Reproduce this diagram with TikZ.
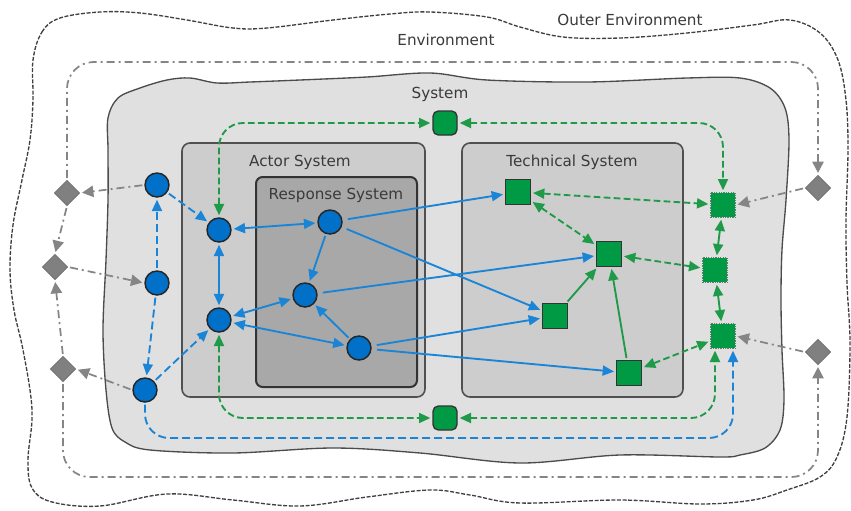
\documentclass[tikz,border=0pt]{standalone}
\usepackage{fontspec}
\setmainfont{DejaVu Sans}
\usetikzlibrary{shapes.geometric,arrows.meta}
\definecolor{bluefill}{HTML}{0070C8}
\definecolor{blueline}{HTML}{1A85D6}
\definecolor{greenfill}{HTML}{009A44}
\definecolor{greenline}{HTML}{1E9A48}
\definecolor{grayline}{HTML}{858585}
\definecolor{diafill}{HTML}{808080}
\definecolor{sysfill}{HTML}{E0E0E0}
\definecolor{actfill}{HTML}{CDCDCD}
\definecolor{resfill}{HTML}{A8A8A8}
\definecolor{boxline}{HTML}{505050}
\definecolor{txt}{HTML}{3A3A3A}
\tikzset{
 circ/.style={circle,draw=black!85,line width=1.1pt,fill=bluefill,minimum size=18pt,inner sep=0},
 tsq/.style={rectangle,draw=black!80,line width=1pt,fill=greenfill,minimum size=18.5pt,inner sep=0},
 osq/.style={rectangle,draw=black!55,line width=0.5pt,dash pattern=on 1pt off 0.8pt,fill=greenfill,minimum size=18.5pt,inner sep=0},
 rsq/.style={rectangle,rounded corners=4pt,draw=black!80,line width=1pt,fill=greenfill,minimum size=18pt,inner sep=0},
 dia/.style={diamond,draw=black!55,line width=0.6pt,fill=diafill,minimum size=19pt,inner sep=0},
 lbl/.style={text=txt,font=\fontsize{11.4}{13}\selectfont,inner sep=0},
 arr/.style={-{Triangle[length=8.5pt,width=7.5pt]},shorten >=1.5pt,shorten <=1.5pt},
 darr/.style={{Triangle[length=8.5pt,width=7.5pt]}-{Triangle[length=8.5pt,width=7.5pt]},shorten >=1.5pt,shorten <=1.5pt},
 bsol/.style={draw=blueline,line width=1.4pt},
 bdash/.style={draw=blueline,line width=1.4pt,dash pattern=on 6pt off 3pt},
 gsol/.style={draw=greenline,line width=1.4pt},
 gdash/.style={draw=greenline,line width=1.4pt,dash pattern=on 5pt off 2.5pt},
 gline/.style={draw=grayline,line width=1.3pt,dash pattern=on 6pt off 3pt on 1.5pt off 3pt},
 gtip/.style={-{Triangle[length=8.5pt,width=8.5pt]},shorten >=1.5pt,shorten <=1.5pt},
 boxA/.style={draw=boxline,line width=1.2pt,fill=actfill,rounded corners=6pt},
 boxR/.style={draw=black!80,line width=1.5pt,fill=resfill,rounded corners=5pt}
}
\begin{document}
\begin{tikzpicture}[x=0.75pt,y=-0.75pt]
\useasboundingbox (0,0) rectangle (851,511);
% outer environment boundary
\draw[black!75,line width=1pt,dash pattern=on 3pt off 1.2pt] plot[smooth cycle,tension=0.6] coordinates {
(33,60) (42,32) (60,18) (100,12) (140,13) (187,20) (233,28) (267,28) (333,20) (390,14) (430,12)
(487,17) (520,27) (563,37) (620,38) (687,33) (753,25) (790,20) (820,33) (838,60) (846,100)
(848,150) (846,220) (847,283) (850,343) (847,417) (837,457) (820,477) (787,490) (753,500)
(700,504) (620,500) (520,503) (470,495) (430,490) (367,497) (300,506) (233,500) (167,494)
(100,506) (52,502) (32,488) (28,460) (32,420) (30,390) (22,345) (14,310) (10,270) (13,225)
(22,180) (30,140) (33,100)};
% system boundary
\draw[fill=sysfill,draw=black!70,line width=1pt] plot[smooth cycle,tension=0.55] coordinates {
(108,118) (118,98) (140,88) (167,80) (190,78) (217,83) (250,82) (300,80) (367,77) (430,73)
(487,80) (587,82) (687,78) (740,78) (770,88) (785,108) (789,140) (786,200) (782,250)
(781,300) (782,350) (784,400) (780,430) (765,448) (740,455) (720,457) (620,455) (520,463)
(420,453) (333,448) (233,453) (150,450) (125,442) (112,428) (106,390) (103,330) (106,260)
(108,200) (108,150)};
% subsystem boxes
\draw[boxA] (182,143) rectangle (425,397);
\draw[boxR] (256,177) rectangle (417,387);
\draw[boxA] (462,143) rectangle (683,397);
% labels
\node[lbl] (louter) at (630,20) {Outer Environment};
\node[lbl] (lenv) at (446,40) {Environment};
\node[lbl] (lsys) at (440,94) {System};
\node[lbl] (lact) at (300,162) {Actor System};
\node[lbl] (lres) at (336,195) {Response System};
\node[lbl] (ltec) at (572,162) {Technical System};
% nodes
\node[circ] (C1) at (157,185) {};
\node[circ] (C2) at (157,283) {};
\node[circ] (C3) at (145,390) {};
\node[circ] (A1) at (219,230) {};
\node[circ] (A2) at (219,320) {};
\node[circ] (R1) at (330,222) {};
\node[circ] (R2) at (305,295) {};
\node[circ] (R3) at (359,348) {};
\node[tsq] (T1) at (518,192) {};
\node[tsq] (T2) at (609,254) {};
\node[tsq] (T3) at (555,316) {};
\node[tsq] (T4) at (629,373) {};
\node[osq] (S1) at (723,205) {};
\node[osq] (S2) at (715,270) {};
\node[osq] (S3) at (723,336) {};
\node[rsq] (Gt) at (445,123) {};
\node[rsq] (Gb) at (445,418) {};
\node[dia] (D1) at (67,193) {};
\node[dia] (D2) at (55,267) {};
\node[dia] (D3) at (63,369) {};
\node[dia] (E1) at (818,188) {};
\node[dia] (E2) at (818,352) {};
\coordinate (s3g) at ([xshift=-6pt]S3.south);
\coordinate (s3b) at ([xshift=7.5pt]S3.south);
\coordinate (topm) at (440,62);
\coordinate (botm) at (440,477);
\coordinate (bluem) at (440,438);
% environment dash-dot boundary
\draw[gline,gtip,rounded corners=20pt] (D1.north) |- (topm) -| (E1.north);
\draw[gline,gtip,rounded corners=20pt] (D3.south) |- (botm) -| (E2.south);
\draw[gline,gtip] (D1.south) -- (D2.north);
\draw[gline,gtip] (D3.north) -- (D2.south);
\draw[gline,gtip] (C1.west) -- (D1.east);
\draw[gline,gtip] (D2.east) -- (C2.west);
\draw[gline,gtip] (C3.west) -- (D3.east);
\draw[gline,gtip] (E1.west) -- (S1.east);
\draw[gline,gtip] (E2.west) -- (S3.east);
% blue solid
\draw[bsol,darr] (A1) -- (R1);
\draw[bsol,darr] (A1) -- (A2);
\draw[bsol,darr] (A2) -- (R2);
\draw[bsol,darr] (A2) -- (R3);
\draw[bsol,arr] (R1) -- (R2);
\draw[bsol,arr] (R3) -- (R2);
\draw[bsol,arr,shorten <=4pt] (R1) -- (T1);
\draw[bsol,arr,shorten <=4pt] (R1) -- (T3);
\draw[bsol,arr,shorten <=4pt] (R2) -- (T2);
\draw[bsol,arr,shorten <=4pt] (R3) -- (T3);
\draw[bsol,arr,shorten <=4pt] (R3) -- (T4);
% blue dashed
\draw[bdash,arr] (C1) -- (A1);
\draw[bdash,arr] (C2) -- (C1);
\draw[bdash,arr] (C2) -- (C3);
\draw[bdash,arr] (C3) -- (A2);
\draw[bdash,arr,rounded corners=18pt] (C3.south) |- (bluem) -| (s3b);
% green dashed
\draw[gdash,darr,rounded corners=18pt] (A1.north) |- (Gt.west);
\draw[gdash,darr,rounded corners=18pt] (Gt.east) -| (S1.north);
\draw[gdash,darr,rounded corners=18pt] (A2.south) |- (Gb.west);
\draw[gdash,darr,rounded corners=18pt] (Gb.east) -| (s3g);
\draw[gdash,darr] (T1) -- (S1);
\draw[gdash,darr] (T1) -- (T2);
\draw[gdash,darr] (T2) -- (S2);
\draw[gdash,darr] (T4) -- (S3);
% green solid
\draw[gsol,arr] (T3) -- (T2);
\draw[gsol,arr] (T4) -- (T2);
\draw[gsol,darr] (S1) -- (S2);
\draw[gsol,darr] (S2) -- (S3);
\end{tikzpicture}
\end{document}
